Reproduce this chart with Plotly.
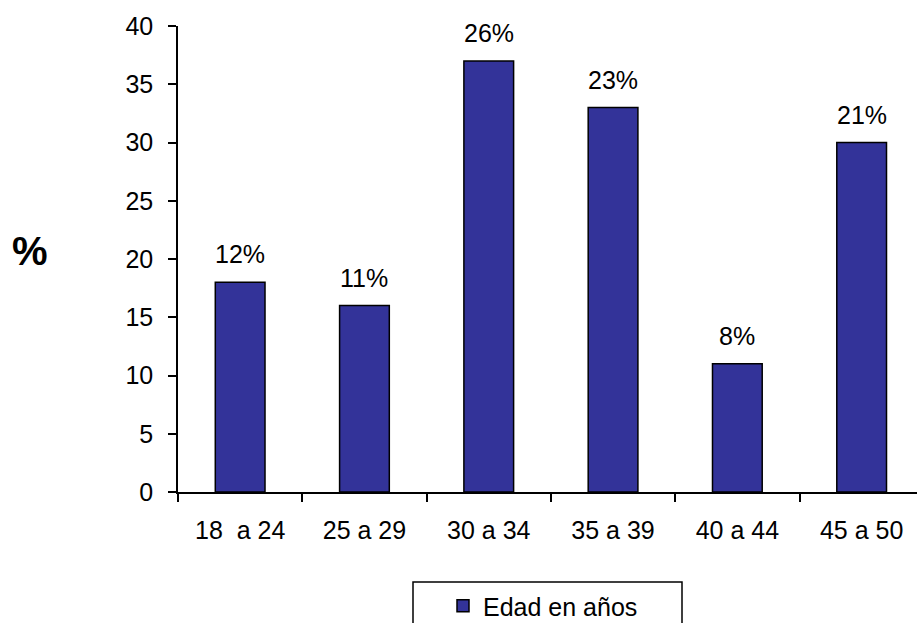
import plotly.graph_objects as go

categories = ["18  a 24", "25 a 29", "30 a 34", "35 a 39", "40 a 44", "45 a 50"]
values = [18, 16, 37, 33, 11, 30]
bar_labels = ["12%", "11%", "26%", "23%", "8%", "21%"]
series_name = "Edad en años"
y_ticks = [0, 5, 10, 15, 20, 25, 30, 35, 40]

FONT = "Liberation Sans, Arial, sans-serif"
BAR_COLOR = "#333399"
FS = 25

# plot-area geometry (px)
L, R, T, B = 178, 917, 26, 492
PW, PH = R - L, B - T


def px_x(x):
    return (x - L) / PW


def px_y(y):
    return (B - y) / PH


fig = go.Figure()
fig.add_trace(go.Bar(
    x=categories,
    y=values,
    name=series_name,
    width=0.4,
    marker=dict(color=BAR_COLOR, line=dict(color="black", width=1.5)),
    showlegend=True,
))

for c, v, t in zip(categories, values, bar_labels):
    fig.add_annotation(
        x=c, y=v, text=t, showarrow=False, yanchor="bottom", yshift=12,
        font=dict(family=FONT, size=FS, color="black"),
    )

fig.add_annotation(
    xref="paper", yref="paper", x=px_x(30), y=px_y(251),
    text="<b>%</b>", showarrow=False, xanchor="center", yanchor="middle",
    font=dict(family=FONT, size=40, color="black"),
)

# legend frame
fig.add_shape(
    type="rect", xref="paper", yref="paper",
    x0=px_x(413), x1=px_x(682), y0=px_y(582), y1=px_y(650),
    line=dict(color="black", width=1.5), fillcolor="white", layer="below",
)

fig.update_layout(
    width=917, height=623,
    margin=dict(l=L, r=0, t=T, b=623 - B, autoexpand=False),
    plot_bgcolor="white", paper_bgcolor="white",
    font=dict(family=FONT, size=FS, color="black"),
    bargap=0.6,
    legend=dict(
        orientation="h",
        x=px_x(443), y=px_y(583),
        xanchor="left", yanchor="top",
        borderwidth=0,
        bgcolor="rgba(0,0,0,0)",
        font=dict(family=FONT, size=FS, color="black"),
        itemwidth=30,
    ),
    xaxis=dict(
        type="category",
        range=[-0.5, -0.5 + PW / 124.3],
        showline=True, linecolor="black", linewidth=1.5,
        ticks="outside", tickson="boundaries", ticklen=8, tickwidth=1.5, tickcolor="black",
        showgrid=False, zeroline=False,
        ticklabelstandoff=15,
        tickfont=dict(family=FONT, size=FS, color="black"),
    ),
    yaxis=dict(
        range=[0, 40],
        tickvals=y_ticks,
        showline=True, linecolor="black", linewidth=1.5,
        ticks="outside", ticklen=8, tickwidth=1.5, tickcolor="black",
        showgrid=False, zeroline=False,
        ticklabelstandoff=10,
        tickfont=dict(family=FONT, size=FS, color="black"),
    ),
)

fig.write_html("out.html")
